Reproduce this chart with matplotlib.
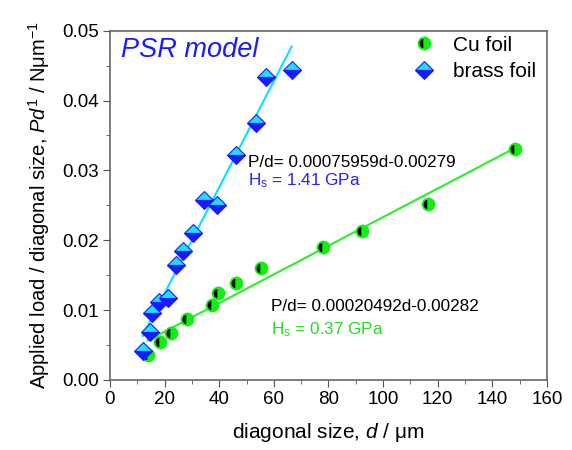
import numpy as np
import matplotlib
matplotlib.use("Agg")
import matplotlib.pyplot as plt

plt.rcParams["font.family"] = ["Liberation Sans", "DejaVu Sans"]
plt.rcParams["mathtext.fontset"] = "custom"
plt.rcParams["mathtext.rm"] = "Liberation Sans"
plt.rcParams["mathtext.it"] = "Liberation Sans:italic"

# Cu foil data
cu_d = [14.0, 18.3, 22.2, 28.1, 37.2, 39.7, 46.0, 55.3, 77.9, 92.4, 116.5, 148.4]
cu_pd = [0.0036, 0.0055, 0.0067, 0.0088, 0.0107, 0.0124, 0.0139, 0.0161,
         0.0191, 0.0213, 0.0252, 0.0331]

# brass foil data
brass_d = [12.0, 14.6, 15.5, 17.9, 21.2, 24.2, 26.9, 30.3, 34.5, 39.1,
           46.2, 53.5, 57.1, 66.5]
brass_pd = [0.0041, 0.0068, 0.0096, 0.0111, 0.0117, 0.0165, 0.0185, 0.0211,
            0.0257, 0.0250, 0.0322, 0.0368, 0.0433, 0.0444]

# linear fits (slope, intercept, x range)
cu_fit = (0.00020492, 0.00282, 13.8, 148.4)
brass_fit = (0.00075959, -0.00279, 12.0, 66.5)

fig = plt.figure(figsize=(5.72, 4.5), dpi=100)
ax = fig.add_axes([0.1923, 0.1556, 0.7640, 0.7762])

green = "#11ee11"
for fit, col in [(cu_fit, "#33ee33"), (brass_fit, "#11e0ff")]:
    xs = np.array([fit[2], fit[3]])
    ax.plot(xs, fit[0] * xs + fit[1], color=col, lw=1.6, zorder=2)

ax.plot(cu_d, cu_pd, ls="none", marker="o", ms=8.5, fillstyle="left",
        mfc="black", mfcalt=green, mec=green, mew=1.4, label="Cu foil", zorder=3)
ax.plot(brass_d, brass_pd, ls="none", marker="D", ms=9, fillstyle="top",
        mfc="#22ddff", mfcalt="#1a1aff", mec="#1a1aff", mew=0.8,
        label="brass foil", zorder=3)

ax.set_xlim(0, 160)
ax.set_ylim(0, 0.05)
ax.set_xticks(np.arange(0, 161, 20))
ax.set_xticks(np.arange(10, 160, 20), minor=True)
ax.set_yticks(np.arange(0, 0.051, 0.01))
ax.set_yticks(np.arange(0.005, 0.05, 0.01), minor=True)
ax.yaxis.set_major_formatter(matplotlib.ticker.FormatStrFormatter("%.2f"))
ax.tick_params(which="major", direction="out", length=5, labelsize=13.5,
               top=False, right=False, color="#555555", pad=3)
ax.tick_params(which="minor", direction="out", length=3, top=False,
               right=False, color="#555555")
for s in ax.spines.values():
    s.set_color("#666666")
    s.set_linewidth(1.2)

ax.set_xlabel("diagonal size, $\\mathit{d}$ / \u03bcm", fontsize=15, labelpad=9)
ax.set_ylabel("Applied load / diagonal size, $\\mathit{Pd}^{1}$ / N\u03bcm$^{-1}$",
              fontsize=14.5, labelpad=7)

ax.text(3.9, 0.0462, "PSR model", color="#1a1aff", fontsize=19.5,
        style="italic")
ax.text(50.5, 0.0311, "P/d= 0.00075959d-0.00279", fontsize=12.3, va="center")
ax.text(50.5, 0.0286, "H$_\\mathrm{s}$ = 1.41 GPa", color="#2222ff",
        fontsize=12.3, va="center")
ax.text(58.8, 0.0105, "P/d= 0.00020492d-0.00282", fontsize=12.3, va="center")
ax.text(58.8, 0.0072, "H$_\\mathrm{s}$ = 0.37 GPa", color="#22dd22",
        fontsize=12.3, va="center")

ax.legend(loc="upper right", bbox_to_anchor=(0.995, 1.01), frameon=False,
          fontsize=15, handletextpad=0.7, labelspacing=0.35, handlelength=1.4,
          borderaxespad=0.0)

fig.savefig("out.png", dpi=100)
